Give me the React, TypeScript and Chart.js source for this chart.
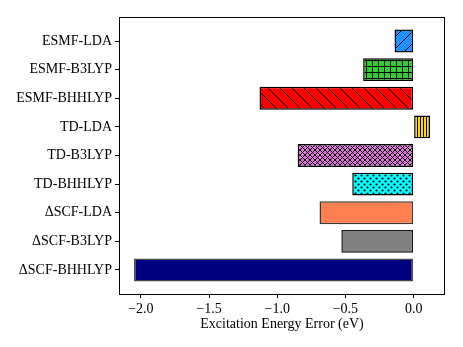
import { useEffect, useRef } from 'react';
import { Chart, registerables } from 'chart.js';

Chart.register(...registerables);

const methods = ['ESMF-LDA', 'ESMF-B3LYP', 'ESMF-BHHLYP', 'TD-LDA', 'TD-B3LYP', 'TD-BHHLYP', 'ΔSCF-LDA', 'ΔSCF-B3LYP', 'ΔSCF-BHHLYP'];
const errors = [-0.14, -0.37, -1.13, 0.12, -0.85, -0.45, -0.69, -0.53, -2.05];
const fillColors = ['#1E90FF', '#32CD32', '#FF0000', '#FFD700', '#DA70D6', '#00FFFF', '#FF7F50', '#808080', '#000080'];
const hatches = ['/', '+', '\\', '|', 'x', '.', '', '', ''];
const edgeColors = ['#000', '#000', '#000', '#000', '#000', '#000', '#3a3a3a', '#111', '#4a4a4a'];
const xTicks = [-2.0, -1.5, -1.0, -0.5, 0.0];
const xTitle = 'Excitation Energy Error (eV)';

const FONT = "'Liberation Serif', 'Times New Roman', serif";

function makePattern(color: string, hatch: string): CanvasPattern | string {
  if (!hatch) return color;
  const sizes: Record<string, number> = { '/': 12, '\\': 12, '+': 6, '|': 3, 'x': 5, '.': 6 };
  const s = sizes[hatch];
  const c = document.createElement('canvas');
  c.width = s;
  c.height = s;
  const g = c.getContext('2d')!;
  g.fillStyle = color;
  g.fillRect(0, 0, s, s);
  g.strokeStyle = '#000';
  g.fillStyle = '#000';
  g.lineWidth = 1;
  const diag = (dir: number) => {
    for (let k = -1; k <= 1; k++) {
      g.beginPath();
      if (dir > 0) {
        g.moveTo(-1, s + 1 + k * s);
        g.lineTo(s + 1, -1 + k * s);
      } else {
        g.moveTo(-1, -1 + k * s);
        g.lineTo(s + 1, s + 1 + k * s);
      }
      g.stroke();
    }
  };
  if (hatch === '/') diag(1);
  else if (hatch === '\\') diag(-1);
  else if (hatch === 'x') {
    diag(1);
    diag(-1);
  } else if (hatch === '+') {
    g.beginPath();
    g.moveTo(0.5, 0);
    g.lineTo(0.5, s);
    g.moveTo(0, 0.5);
    g.lineTo(s, 0.5);
    g.stroke();
  } else if (hatch === '|') {
    g.beginPath();
    g.moveTo(0.5, 0);
    g.lineTo(0.5, s);
    g.stroke();
  } else if (hatch === '.') {
    const dots = [[1.5, 1.5], [4.5, 4.5]];
    for (const [x, y] of dots) {
      g.beginPath();
      g.arc(x, y, 1.1, 0, Math.PI * 2);
      g.fill();
    }
  }
  return g.createPattern(c, 'repeat') as CanvasPattern;
}

const framePlugin = {
  id: 'frame',
  afterDraw(chart: any) {
    const { ctx, chartArea } = chart;
    ctx.save();
    ctx.strokeStyle = '#000';
    ctx.lineWidth = 1;
    ctx.strokeRect(
      Math.round(chartArea.left) + 0.5,
      Math.round(chartArea.top) + 0.5,
      Math.round(chartArea.right - chartArea.left) - 1,
      Math.round(chartArea.bottom - chartArea.top)
    );
    ctx.restore();
  },
};

export default function App() {
  const ref = useRef<HTMLCanvasElement>(null);

  useEffect(() => {
    document.body.style.margin = '0';
    const canvas = ref.current!;
    const bg = fillColors.map((c, i) => makePattern(c, hatches[i]));
    const chart = new Chart(canvas, {
      type: 'bar',
      data: {
        datasets: [
          {
            data: errors.map((v, i) => ({ x: v, y: i })),
            backgroundColor: bg as any,
            borderColor: edgeColors,
            borderWidth: 1.5,
            borderSkipped: false,
            categoryPercentage: 0.8,
            barPercentage: 1,
          },
        ],
      },
      options: {
        indexAxis: 'y',
        animation: false,
        responsive: false,
        layout: { padding: { top: 17, right: 18, bottom: 14, left: 0 } },
        plugins: { legend: { display: false }, tooltip: { enabled: false } },
        scales: {
          x: {
            type: 'linear',
            min: -2.16,
            max: 0.23,
            offset: false,
            border: { display: false },
            grid: { display: true, offset: false, drawOnChartArea: false, drawTicks: true, tickLength: 4, color: '#000' },
            afterBuildTicks: (scale: any) => {
              scale.ticks = xTicks.map((v) => ({ value: v }));
            },
            afterFit: (scale: any) => {
              scale.height = 39;
            },
            ticks: {
              color: '#000',
              padding: 3,
              maxRotation: 0,
              autoSkip: false,
              font: { family: FONT, size: 14 },
              callback: (v: any) => Number(v).toFixed(1).replace('-', '\u2212'),
            },
            title: {
              display: true,
              text: xTitle,
              color: '#000',
              padding: 0,
              font: { family: FONT, size: 14 },
            },
          },
          y: {
            type: 'linear',
            reverse: true,
            min: -0.84,
            max: 8.84,
            offset: false,
            border: { display: false },
            grid: { display: true, offset: false, drawOnChartArea: false, drawTicks: true, tickLength: 4, color: '#000' },
            afterBuildTicks: (scale: any) => {
              scale.ticks = methods.map((_, i) => ({ value: i }));
            },
            afterFit: (scale: any) => {
              scale.width = 119;
            },
            ticks: {
              color: '#000',
              padding: 3,
              autoSkip: false,
              font: { family: FONT, size: 14 },
              callback: (v: any) => methods[Math.round(Number(v))] ?? '',
            },
          },
        },
      },
      plugins: [framePlugin],
    });
    return () => chart.destroy();
  }, []);

  return (
    <div style={{ width: 463, height: 347 }}>
      <canvas ref={ref} width={463} height={347} style={{ display: 'block' }} />
    </div>
  );
}
